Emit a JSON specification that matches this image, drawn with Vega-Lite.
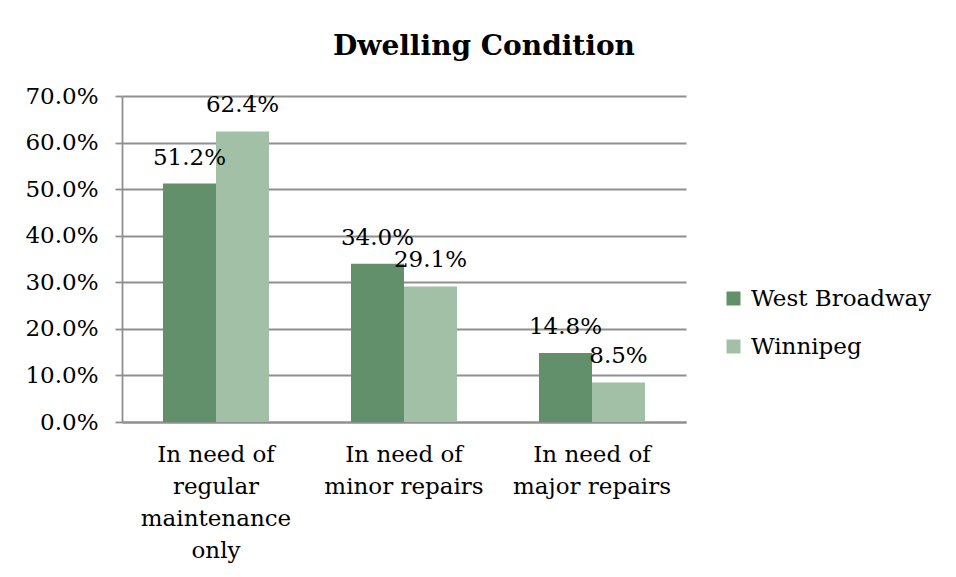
{
  "$schema": "https://vega.github.io/schema/vega-lite/v6.json",
  "width": 564,
  "height": 326,
  "autosize": {"type": "none"},
  "padding": {"left": 122, "top": 96, "right": 270, "bottom": 155},
  "background": "white",
  "title": {
    "text": "Dwelling Condition",
    "font": "DejaVu Serif",
    "fontSize": 28,
    "fontWeight": "bold",
    "color": "black",
    "anchor": "middle",
    "dx": 80,
    "offset": 24
  },
  "data": {
    "values": [
      {"condition": "In need of regular maintenance only", "area": "West Broadway", "share": 0.512},
      {"condition": "In need of regular maintenance only", "area": "Winnipeg", "share": 0.624},
      {"condition": "In need of minor repairs", "area": "West Broadway", "share": 0.340},
      {"condition": "In need of minor repairs", "area": "Winnipeg", "share": 0.291},
      {"condition": "In need of major repairs", "area": "West Broadway", "share": 0.148},
      {"condition": "In need of major repairs", "area": "Winnipeg", "share": 0.085}
    ]
  },
  "encoding": {
    "x": {
      "field": "condition",
      "type": "nominal",
      "sort": null,
      "title": null,
      "scale": {"paddingInner": 0.436, "paddingOuter": 0.218},
      "axis": {
        "labelAngle": 0,
        "ticks": false,
        "domainColor": "#8f8f8f",
        "domainWidth": 1.8,
        "labelFont": "DejaVu Serif",
        "labelFontSize": 23,
        "labelColor": "black",
        "labelPadding": 21,
        "labelLineHeight": 32,
        "labelBaseline": "top",
        "labelLimit": 300,
        "labelExpr": "datum.value == 'In need of regular maintenance only' ? ['In need of', 'regular', 'maintenance', 'only'] : datum.value == 'In need of minor repairs' ? ['In need of', 'minor repairs'] : ['In need of', 'major repairs']"
      }
    },
    "xOffset": {"field": "area", "type": "nominal", "scale": {"paddingInner": 0, "paddingOuter": 0}},
    "y": {
      "field": "share",
      "type": "quantitative",
      "title": null,
      "scale": {"domain": [0, 0.7], "nice": false},
      "axis": {
        "values": [0, 0.1, 0.2, 0.3, 0.4, 0.5, 0.6, 0.7],
        "format": ".1%",
        "grid": true,
        "gridColor": "#8f8f8f",
        "gridWidth": 1.8,
        "domainColor": "#8f8f8f",
        "domainWidth": 1.8,
        "tickColor": "#8f8f8f",
        "tickWidth": 1.8,
        "tickSize": 7,
        "labelFont": "DejaVu Serif",
        "labelFontSize": 23,
        "labelColor": "black",
        "labelPadding": 17
      }
    }
  },
  "layer": [
    {
      "mark": {"type": "bar"},
      "encoding": {
        "color": {
          "field": "area",
          "type": "nominal",
          "title": null,
          "scale": {"domain": ["West Broadway", "Winnipeg"], "range": ["#62906a", "#a2c0a6"]},
          "legend": {
            "orient": "none",
            "legendX": 600,
            "legendY": 191,
            "symbolType": "square",
            "symbolSize": 196,
            "symbolStrokeWidth": 0,
            "labelFont": "DejaVu Serif",
            "labelFontSize": 23,
            "labelColor": "black",
            "labelOffset": 6,
            "labelLimit": 300,
            "rowPadding": 24,
            "padding": 0
          }
        }
      }
    },
    {
      "mark": {
        "type": "text",
        "font": "DejaVu Serif",
        "fontSize": 23,
        "color": "black",
        "baseline": "alphabetic",
        "dy": -19
      },
      "encoding": {
        "text": {"field": "share", "type": "quantitative", "format": ".1%"}
      }
    }
  ],
  "config": {
    "view": {"stroke": null}
  }
}
